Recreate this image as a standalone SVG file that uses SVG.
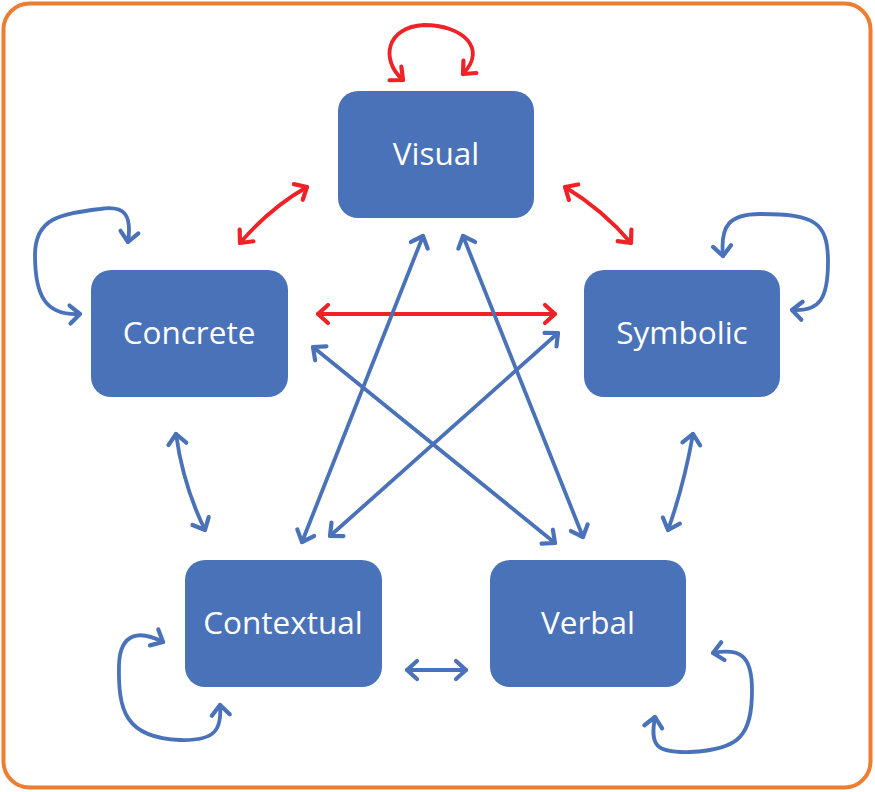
<svg xmlns="http://www.w3.org/2000/svg" width="875" height="792" viewBox="0 0 875 792">
<style>
.box{fill:#4A72B8;}
.lbl{fill:#FFFFFF;font-family:"Open Sans","Liberation Sans",sans-serif;font-size:31.5px;text-anchor:middle;dominant-baseline:central;}
.b{fill:none;stroke:#4A72B8;stroke-width:3.8;stroke-linecap:round;marker-start:url(#ab);marker-end:url(#ab);}
.r{fill:none;stroke:#EE2227;stroke-width:3.8;stroke-linecap:round;marker-start:url(#ar);marker-end:url(#ar);}
</style>
<defs>
<marker id="ab" markerUnits="userSpaceOnUse" markerWidth="30" markerHeight="30" viewBox="-15 -15 30 30" refX="0" refY="0" orient="auto-start-reverse" overflow="visible">
<path d="M -10 -9 L 0 0 L -10 9" fill="none" stroke="#4A72B8" stroke-width="4.2" stroke-linecap="round" stroke-linejoin="round"/>
</marker>
<marker id="ar" markerUnits="userSpaceOnUse" markerWidth="30" markerHeight="30" viewBox="-15 -15 30 30" refX="0" refY="0" orient="auto-start-reverse" overflow="visible">
<path d="M -10 -9 L 0 0 L -10 9" fill="none" stroke="#EE2227" stroke-width="4.2" stroke-linecap="round" stroke-linejoin="round"/>
</marker>
</defs>
<rect x="3.5" y="3.5" width="867" height="784" rx="26" fill="#FFFFFF" stroke="#ED7D31" stroke-width="4"/>
<g id="connectors">
<path class="r" d="M 403 80 C 380 60, 386 27, 424 25 C 462 25, 488 48, 463 74"/>
<path class="r" d="M 240 243 Q 270 208, 307 187"/>
<path class="r" d="M 565 187 Q 603 210, 631 243"/>
<path class="r" d="M 318 314 L 555 314"/>
<path class="b" d="M 128 242 C 132 215, 125 205, 100 209 C 60 214, 35 218, 35 255 C 35 295, 45 316, 80 314"/>
<path class="b" d="M 723 256 C 720 225, 730 214, 760 214 C 815 214, 828 222, 828 262 C 828 298, 820 312, 792 310"/>
<path class="b" d="M 163 642 C 140 630, 120 632, 119 665 C 118 710, 125 738, 180 740 C 215 741, 222 730, 220 705"/>
<path class="b" d="M 713 653 C 740 648, 752 655, 752 690 C 752 735, 740 750, 690 752 C 655 753, 650 745, 655 717"/>
<path class="b" d="M 176 434 Q 183 485, 205 530"/>
<path class="b" d="M 693 434 Q 684 485, 668 530"/>
<path class="b" d="M 407 670 L 466 670"/>
<path class="b" d="M 423 236 L 302 542"/>
<path class="b" d="M 463 236 L 583 537"/>
<path class="b" d="M 313 347 L 555 543"/>
<path class="b" d="M 558 333 L 330 536"/>
</g>
<g id="visual"><rect class="box" x="338" y="91" width="196" height="127" rx="20"/><text class="lbl" x="436" y="152">Visual</text></g>
<g id="concrete"><rect class="box" x="91" y="270" width="197" height="127" rx="20"/><text class="lbl" x="189" y="331">Concrete</text></g>
<g id="symbolic"><rect class="box" x="584" y="270" width="196" height="127" rx="20"/><text class="lbl" x="682" y="331">Symbolic</text></g>
<g id="contextual"><rect class="box" x="185" y="560" width="197" height="127" rx="20"/><text class="lbl" x="283" y="621">Contextual</text></g>
<g id="verbal"><rect class="box" x="490" y="560" width="196" height="127" rx="20"/><text class="lbl" x="588" y="621">Verbal</text></g>
</svg>
